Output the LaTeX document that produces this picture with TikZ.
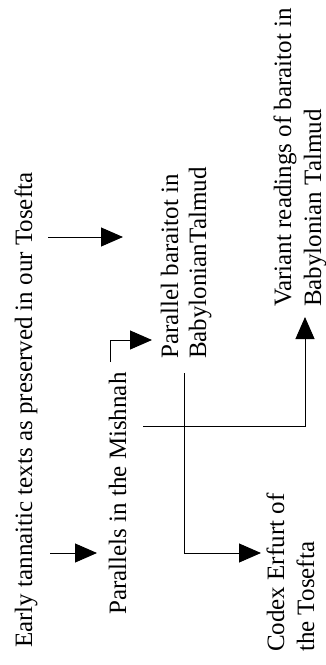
\documentclass[tikz,border=0pt]{standalone}
\usepackage{fontspec}
\setmainfont{Liberation Serif}
\usetikzlibrary{arrows.meta,calc}
\begin{document}
\begin{tikzpicture}[x=1pt,y=-1pt,
  txt/.style={rotate=90, inner sep=0pt, align=left, anchor=base west, font=\fontsize{25}{30}\selectfont},
  arr/.style={line width=1pt, -{Triangle[length=22pt,width=19pt]}},
  ln/.style={line width=1pt}]
\useasboundingbox (0,0) rectangle (326,665);
\node[txt] (early) at (32,648) {Early tannaitic texts as preserved in our Tosefta};
\node[txt] (mishnah) at (126,615) {Parallels in the Mishnah};
\node[txt, font=\fontsize{25}{28}\selectfont] (baraitot) at (206,359) {Parallel baraitot in\\BabylonianTalmud};
\node[txt] (codex) at (314,652) {Codex Erfurt of\\the Tosefta};
\node[txt] (variant) at (321,307) {Variant readings of baraitot in\\Babylonian Talmud};
% early -> baraitot
\coordinate (a1s) at ($(early.base |- 0,237)+(16,0)$);
\coordinate (a1e) at ($(baraitot.base |- 0,237)+(-83,0)$);
\draw[arr] (a1s) -- (a1e);
% early -> mishnah
\coordinate (a2s) at ($(early.base |- 0,553)+(18,0)$);
\coordinate (a2e) at ($(mishnah.base |- 0,553)+(-29,0)$);
\draw[arr] (a2s) -- (a2e);
% mishnah -> baraitot
\coordinate (a3s) at ($(mishnah.base |- 0,362)+(-16,0)$);
\coordinate (a3e) at ($(baraitot.base west)+(-54,-19)$);
\draw[arr] (a3s) |- (a3e);
% baraitot -> codex
\coordinate (a4s) at ($(baraitot.base west)+(-22,14)$);
\coordinate (a4e) at ($(codex.base west)+(-53,-99)$);
\draw[arr] (a4s) |- (a4e);
% mishnah -> variant
\coordinate (a5s) at ($(mishnah.base |- 0,426)+(17,0)$);
\coordinate (a5e) at ($(variant.base west)+(-16,10)$);
\draw[arr] (a5s) -| (a5e);
\end{tikzpicture}
\end{document}
